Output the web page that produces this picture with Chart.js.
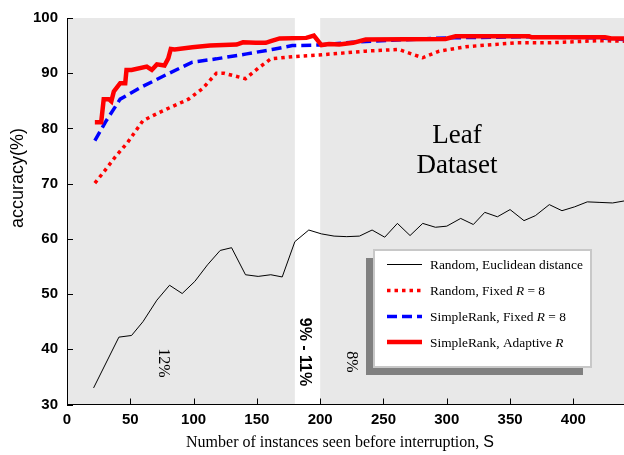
<!DOCTYPE html>
<html>
<head>
<meta charset="utf-8">
<script src="https://cdn.jsdelivr.net/npm/chart.js@4.4.1/dist/chart.umd.min.js"></script>
<style>
  html, body { margin: 0; padding: 0; background: #fff; }
  #wrap { width: 624px; height: 455px; }
</style>
</head>
<body>
<div id="wrap"><canvas id="chart"></canvas></div>
<script>
// values (x = instances seen, y = accuracy %)
const euclidX = [21, 41, 51, 60, 71, 81, 91, 101, 111, 121, 130, 141, 151, 161, 170, 180, 191, 201, 211, 221, 231,
  241, 251, 261, 271, 281, 291, 300, 311, 321, 330, 340, 350, 361, 370, 381, 391, 401, 411, 421, 431, 441];
const euclidY = [33.0, 42.2, 42.5, 45.0, 48.9, 51.6, 50.1, 52.3, 55.3, 57.9, 58.4, 53.5, 53.2, 53.5, 53.1, 59.5, 61.6, 60.9, 60.5, 60.4, 60.5,
  61.6, 60.3, 62.8, 60.6, 62.8, 62.1, 62.3, 63.7, 62.6, 64.8, 64.0, 65.3, 63.3, 64.2, 66.2, 65.1, 65.8, 66.7, 66.6, 66.5, 66.9];

const randFixedX = [22, 29, 38, 48, 60, 73, 96, 107, 118, 124, 141, 151, 161, 178, 199, 236, 262, 281, 294, 315, 354, 380, 420, 440];
const randFixedY = [70.1, 72.1, 74.8, 77.5, 81.4, 82.9, 85.3, 87.2, 90.0, 90.0, 89.0, 90.9, 92.6, 93.0, 93.3, 94.0, 94.3, 92.8, 94.0, 94.8, 95.5, 95.5, 95.9, 95.8];

const rankFixedX = [22, 31, 42, 58, 79, 99, 118, 142, 162, 178, 199, 231, 260, 300, 360, 420, 440];
const rankFixedY = [77.8, 81.4, 85.3, 87.4, 89.8, 92.0, 92.6, 93.5, 94.3, 95.0, 95.1, 95.7, 96.0, 96.4, 96.6, 96.4, 96.1];

const rankAdaptX = [22, 27, 29, 33, 35, 37, 42, 46, 47, 51, 63, 67, 71, 77, 80, 82, 85, 99, 113, 134, 139, 149, 157, 161,
  168, 189, 195, 201, 207, 215, 226, 236, 299, 307, 365, 367, 425, 430, 440];
const rankAdaptY = [81.1, 81.1, 85.3, 85.3, 84.9, 86.7, 88.2, 88.2, 90.6, 90.6, 91.2, 90.6, 91.6, 91.4, 92.7, 94.4, 94.3, 94.7, 95.0, 95.2, 95.6, 95.5, 95.5, 95.8,
  96.3, 96.4, 96.8, 95.1, 95.3, 95.2, 95.5, 96.1, 96.2, 96.7, 96.7, 96.5, 96.5, 96.3, 96.3];

const seriesNames = ['Random, Euclidean distance', 'Random, Fixed *R* = 8', 'SimpleRank, Fixed *R* = 8', 'SimpleRank, Adaptive *R*'];
const xTicks = [0, 50, 100, 150, 200, 250, 300, 350, 400];
const yTicks = [30, 40, 50, 60, 70, 80, 90, 100];
const shadedRanges = [[0, 180], [200, 440]];
const bandLabels = ['12%', '9% - 11%', '8%'];

const pts = (xs, ys) => xs.map((x, i) => ({ x: x, y: ys[i] }));

// grey bands behind everything
const bandsPlugin = {
  id: 'bands',
  beforeDraw(chart) {
    const { ctx, chartArea: a, scales: { x } } = chart;
    ctx.save();
    ctx.fillStyle = '#e8e8e8';
    shadedRanges.forEach(r => {
      const x0 = x.getPixelForValue(r[0]);
      const x1 = x.getPixelForValue(r[1]);
      ctx.fillRect(x0, a.top, x1 - x0, a.bottom - a.top);
    });
    ctx.restore();
  }
};

function drawParts(ctx, text, x, y, size) {
  // "*R*" is written in italics
  text.split('*').forEach((part, i) => {
    ctx.font = (i % 2 ? 'italic ' : '') + size + 'px "Liberation Serif"';
    ctx.fillText(part, x, y);
    x += ctx.measureText(part).width;
  });
}

const decorPlugin = {
  id: 'decor',
  afterDraw(chart) {
    const { ctx, chartArea: a, scales: { x, y } } = chart;
    ctx.save();

    // inward tick marks
    ctx.strokeStyle = '#000';
    ctx.lineWidth = 1;
    ctx.beginPath();
    xTicks.forEach(v => {
      const px = Math.round(x.getPixelForValue(v)) + 0.5;
      ctx.moveTo(px, a.bottom);
      ctx.lineTo(px, a.bottom - 6);
    });
    yTicks.forEach(v => {
      const py = Math.round(y.getPixelForValue(v)) + 0.5;
      ctx.moveTo(a.left, py);
      ctx.lineTo(a.left + 6, py);
    });
    ctx.stroke();

    ctx.fillStyle = '#000';
    ctx.textBaseline = 'middle';
    ctx.textAlign = 'center';

    // axis titles
    ctx.save();
    ctx.translate(18, 178);
    ctx.rotate(-Math.PI / 2);
    ctx.font = '18px "Liberation Sans"';
    ctx.fillText('accuracy(%)', 0, 0);
    ctx.restore();

    ctx.font = '16px "Liberation Serif"';
    const tMain = 'Number of instances seen before interruption, ';
    const wMain = ctx.measureText(tMain).width;
    ctx.font = '16px "Liberation Sans"';
    const wS = ctx.measureText('S').width;
    let tx = 340 - (wMain + wS) / 2;
    ctx.textAlign = 'left';
    ctx.font = '16px "Liberation Serif"';
    ctx.fillText(tMain, tx, 443);
    ctx.font = '16px "Liberation Sans"';
    ctx.fillText('S', tx + wMain, 443);

    // dataset label
    ctx.textAlign = 'center';
    ctx.font = '27px "Liberation Serif"';
    ctx.fillText('Leaf', 457, 136);
    ctx.fillText('Dataset', 457, 166);

    // rotated band labels
    const rot = (txt, cx, cy, font) => {
      ctx.save();
      ctx.translate(cx, cy);
      ctx.rotate(Math.PI / 2);
      ctx.font = font;
      ctx.fillText(txt, 0, 0);
      ctx.restore();
    };
    rot(bandLabels[0], 163, 363, '16px "Liberation Serif"');
    rot(bandLabels[1], 304, 352, 'bold 16px "Liberation Sans"');
    rot(bandLabels[2], 351, 362, '16px "Liberation Serif"');

    // legend box with drop shadow
    const lg = { x: 374, y: 250, w: 217, h: 117 };
    ctx.fillStyle = '#808080';
    ctx.fillRect(lg.x - 8, lg.y + 8, lg.w, lg.h);
    ctx.fillStyle = '#fff';
    ctx.fillRect(lg.x, lg.y, lg.w, lg.h);
    ctx.strokeStyle = '#c8c8c8';
    ctx.lineWidth = 2;
    ctx.strokeRect(lg.x, lg.y, lg.w, lg.h);

    const rowY = [264.5, 290.5, 316.5, 342];
    const legendOrder = [3, 2, 1, 0];
    ctx.textAlign = 'left';
    legendOrder.forEach((di, i) => {
      const ds = chart.data.datasets[di];
      ctx.strokeStyle = ds.borderColor;
      ctx.lineWidth = ds.borderWidth;
      ctx.setLineDash(ds.borderDash || []);
      ctx.beginPath();
      ctx.moveTo(387, rowY[i]);
      ctx.lineTo(422, rowY[i]);
      ctx.stroke();
      ctx.setLineDash([]);
      ctx.fillStyle = '#000';
      drawParts(ctx, seriesNames[i], 430, rowY[i] + 1, 13.4);
    });

    ctx.restore();
  }
};

const tickFont = { family: 'Liberation Sans', size: 15, weight: 'bold' };

new Chart(document.getElementById('chart'), {
  type: 'line',
  data: {
    datasets: [
      { label: seriesNames[3], data: pts(rankAdaptX, rankAdaptY), borderColor: '#ff0000', borderWidth: 4.5, order: 0 },
      { label: seriesNames[2], data: pts(rankFixedX, rankFixedY), borderColor: '#0000ff', borderWidth: 3.5, borderDash: [10, 5], order: 1 },
      { label: seriesNames[1], data: pts(randFixedX, randFixedY), borderColor: '#ff0000', borderWidth: 3.5, borderDash: [3.5, 4], order: 2 },
      { label: seriesNames[0], data: pts(euclidX, euclidY), borderColor: '#000000', borderWidth: 1, order: 3 }
    ]
  },
  options: {
    responsive: true,
    maintainAspectRatio: false,
    animation: false,
    layout: { padding: { top: 17, right: 0, left: 0, bottom: 0 } },
    elements: { point: { radius: 0 }, line: { tension: 0, borderJoinStyle: 'miter' } },
    plugins: { legend: { display: false }, tooltip: { enabled: false } },
    scales: {
      x: {
        type: 'linear',
        min: 0,
        max: 440,
        afterFit: s => { s.height = 50.5; },
        afterBuildTicks: s => { s.ticks = xTicks.map(v => ({ value: v })); },
        grid: { display: false, drawTicks: false },
        border: { display: true, color: '#000', width: 1 },
        ticks: { font: tickFont, color: '#000', padding: 6, maxRotation: 0 }
      },
      y: {
        min: 30,
        max: 100,
        afterFit: s => { s.width = 67; },
        afterBuildTicks: s => { s.ticks = yTicks.map(v => ({ value: v })); },
        grid: { display: false, drawTicks: false },
        border: { display: true, color: '#000', width: 1 },
        ticks: { font: tickFont, color: '#000', padding: 9 }
      }
    }
  },
  plugins: [bandsPlugin, decorPlugin]
});
</script>
</body>
</html>
